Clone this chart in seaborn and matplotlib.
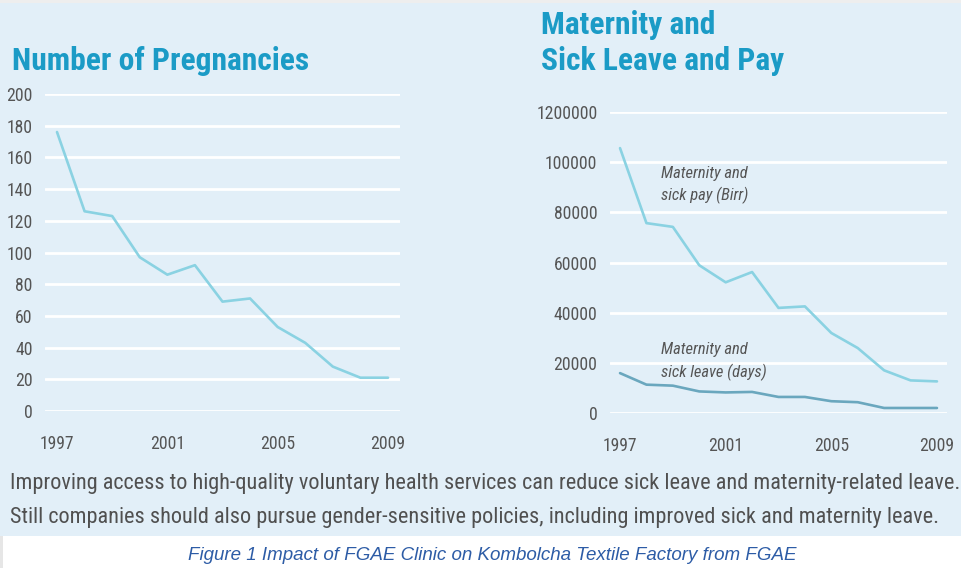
import matplotlib
matplotlib.use("Agg")
import matplotlib.pyplot as plt
from matplotlib.patches import Rectangle
import numpy as np
import pandas as pd
import seaborn as sns

# data
years = list(range(1997, 2010))
pregnancies = [176, 126, 123, 97, 86, 92, 69, 71, 53, 43, 28, 21, 21]
sick_pay = [105600, 75700, 74200, 58900, 52100, 56200, 41900, 42500, 31900, 25900, 17000, 13000, 12600]
sick_leave = [15900, 11300, 10900, 8600, 8200, 8400, 6400, 6400, 4700, 4300, 2000, 2000, 2000]

left_ticks = [0, 20, 40, 60, 80, 100, 120, 140, 160, 180, 200]
right_ticks = [0, 20000, 40000, 60000, 80000, 100000, 120000]
right_tick_labels = ["0", "20000", "40000", "60000", "80000", "100000", "1200000"]
x_ticks = [1997, 2001, 2005, 2009]

sns.set_style("white")
plt.rcParams['font.family'] = ['Roboto Condensed', 'Liberation Sans', 'DejaVu Sans']

panel = "#e2eff8"
light_line = "#8ad2e2"
dark_line = "#6aa7be"
title_col = "#1b9bc6"
tick_col = "#555555"

fig = plt.figure(figsize=(9.61, 5.68), dpi=100)
fig.patch.set_facecolor("white")

# background panel and thin grey strip at top
fig.patches.append(Rectangle((0, 1 - 3 / 568), 1, 3 / 568, transform=fig.transFigure,
                             facecolor="#eeeeee", edgecolor="none", zorder=-2))
fig.patches.append(Rectangle((0, (568 - 536) / 568), 1, (536 - 3) / 568,
                             transform=fig.transFigure, facecolor=panel,
                             edgecolor="none", zorder=-1))
fig.patches.append(Rectangle((0, 0), 3 / 961, (568 - 536) / 568, transform=fig.transFigure,
                             facecolor="#e6e6e6", edgecolor="none", zorder=-1))


def style_axes(ax):
    ax.set_facecolor("none")
    for s in ax.spines.values():
        s.set_visible(False)
    ax.yaxis.grid(True, color="white", linewidth=2)
    ax.xaxis.grid(False)
    ax.set_axisbelow(True)
    ax.tick_params(axis="both", length=0, labelsize=12.7, colors=tick_col)
    ax.tick_params(axis="y", pad=9)
    ax.tick_params(axis="x", pad=17)
    ax.set_xlabel("")
    ax.set_ylabel("")


df_left = pd.DataFrame({"year": years, "value": pregnancies})
ax1 = fig.add_axes([45 / 961, (568 - 411) / 568, 355 / 961, 317 / 568])
sns.lineplot(data=df_left, x="year", y="value", ax=ax1, color=light_line, linewidth=1.9)
ax1.set_xlim(1996.565, 2009.435)
ax1.set_ylim(0, 200)
ax1.set_yticks(left_ticks)
ax1.set_xticks(x_ticks)
style_axes(ax1)

df_right = pd.DataFrame({"year": years * 2,
                         "value": sick_pay + sick_leave,
                         "series": ["pay"] * len(years) + ["leave"] * len(years)})
ax2 = fig.add_axes([610 / 961, (568 - 413) / 568, 337 / 961, 301 / 568])
sns.lineplot(data=df_right, x="year", y="value", hue="series", ax=ax2,
             palette={"pay": light_line, "leave": dark_line}, linewidth=1.9, legend=False)
ax2.set_xlim(1996.62, 2009.38)
ax2.set_ylim(0, 120000)
ax2.set_yticks(right_ticks)
ax2.set_yticklabels(right_tick_labels)
ax2.set_xticks(x_ticks)
style_axes(ax2)
ax2.tick_params(axis="y", pad=9)

ax2.text(1998.55, 90900, "Maternity and\nsick pay (Birr)", fontsize=11.9, style="italic",
         color=tick_col, va="center", ha="left", linespacing=1.5)
ax2.text(1998.55, 20500, "Maternity and\nsick leave (days)", fontsize=11.9, style="italic",
         color=tick_col, va="center", ha="left", linespacing=1.5)

# titles
fig.text(12 / 961, 1 - 70 / 568, "Number of Pregnancies", fontsize=22.7, fontweight="bold",
         color=title_col, ha="left", va="baseline")
fig.text(541 / 961, 1 - 70 / 568, "Maternity and\nSick Leave and Pay", fontsize=22.7,
         fontweight="bold", color=title_col, ha="left", va="baseline", linespacing=1.25)

# body text
fig.text(10 / 961, 1 - 484 / 568,
         "Improving access to high-quality voluntary health services can reduce sick leave and maternity-related leave.",
         fontsize=16, color="#505050", ha="left", va="center")
fig.text(10 / 961, 1 - 517 / 568,
         "Still companies should also pursue gender-sensitive policies, including improved sick and maternity leave.",
         fontsize=16, color="#505050", ha="left", va="center")

fig.text(492 / 961, 1 - 556 / 568,
         "Figure 1 Impact of FGAE Clinic on Kombolcha Textile Factory from FGAE",
         fontsize=13.5, style="italic", color="#2d5ca6", ha="center", va="center",
         family=["Liberation Sans", "DejaVu Sans"])

fig.savefig("out.png", dpi=100, facecolor=fig.get_facecolor())
